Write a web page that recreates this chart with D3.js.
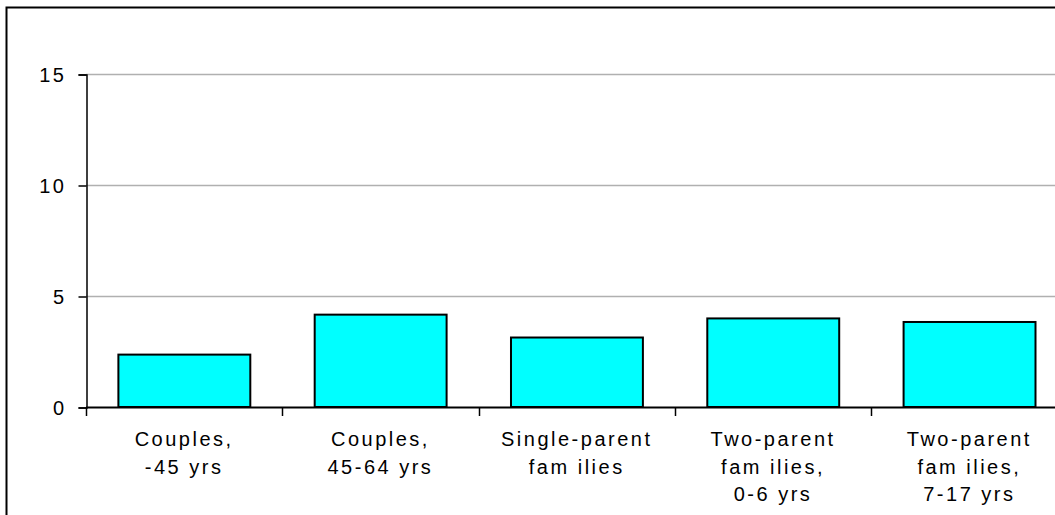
<!DOCTYPE html>
<html>
<head>
<meta charset="utf-8">
<script src="https://cdn.jsdelivr.net/npm/d3@7"></script>
<style>
  body { margin: 0; background: #fff; }
  svg text { font-family: "Liberation Sans", Arial, sans-serif; font-size: 20px; fill: #000; letter-spacing: 2.5px; }
</style>
</head>
<body>
<div class="container"></div>
<script>
const WIDTH = 1055;
const HEIGHT = 515;

// data
var categories = ["c1", "c2", "c3", "c4", "c5"];
var categoryLabels = [
    ["Couples,", "-45 yrs"],
    ["Couples,", "45-64 yrs"],
    ["Single-parent", "fam ilies"],
    ["Two-parent", "fam ilies,", "0-6 yrs"],
    ["Two-parent", "fam ilies,", "7-17 yrs"]
];
var values = [2.36, 4.16, 3.13, 3.99, 3.83];
var yTicks = [0, 5, 10, 15];

var svg = d3.select('.container').append('svg')
    .attr('width', WIDTH)
    .attr('height', HEIGHT);

// outer frame (runs off the right and bottom of the picture)
svg.append('rect')
    .attr('x', 6.5).attr('y', 7.5)
    .attr('width', 1200).attr('height', 700)
    .attr('fill', 'none')
    .attr('stroke', '#000')
    .attr('stroke-width', 2);

var xScale = d3.scaleBand().domain(categories).range([86, 1067.5]).padding(0);
var yScale = d3.scaleLinear().domain([0, 15]).range([407, 74]);

// gridlines
svg.append('g').selectAll('line')
    .data(yTicks.filter(function(d) { return d > 0; }))
    .enter().append('line')
    .attr('x1', 86).attr('x2', WIDTH)
    .attr('y1', function(d) { return yScale(d) + 0.5; })
    .attr('y2', function(d) { return yScale(d) + 0.5; })
    .attr('stroke', '#b0b0b0')
    .attr('stroke-width', 1.5);

// bars
var bw = xScale.bandwidth();
svg.append('g').selectAll('rect')
    .data(values)
    .enter().append('rect')
    .attr('x', function(d, i) { return xScale(categories[i]) + bw * 0.165; })
    .attr('width', bw * 0.672)
    .attr('y', function(d) { return yScale(d); })
    .attr('height', function(d) { return yScale(0) - yScale(d); })
    .attr('fill', '#00ffff')
    .attr('stroke', '#000')
    .attr('stroke-width', 2);

// y axis
var yAxis = d3.axisLeft(yScale).tickValues(yTicks).tickSize(8).tickPadding(12);
var gy = svg.append('g')
    .attr('transform', 'translate(86.5, 0.5)')
    .call(yAxis);
gy.select('.domain').attr('stroke', '#000').attr('stroke-width', 1.5);
gy.selectAll('.tick line').attr('stroke', '#000').attr('stroke-width', 1.5);
gy.selectAll('.tick text')
    .style('font-size', '20px')
    .attr('dy', '0.35em');

// x axis: baseline and boundary ticks
var boundaries = categories.map(function(c) { return xScale(c); }).concat([xScale.range()[1]]);
svg.append('line')
    .attr('x1', 86).attr('x2', WIDTH)
    .attr('y1', yScale(0) + 0.5).attr('y2', yScale(0) + 0.5)
    .attr('stroke', '#000').attr('stroke-width', 2);
svg.append('g').selectAll('line')
    .data(boundaries)
    .enter().append('line')
    .attr('x1', function(d) { return Math.round(d) + 0.5; })
    .attr('x2', function(d) { return Math.round(d) + 0.5; })
    .attr('y1', yScale(0)).attr('y2', yScale(0) + 9)
    .attr('stroke', '#000').attr('stroke-width', 1.5);

// category labels
var lab = svg.append('g').selectAll('text')
    .data(categoryLabels)
    .enter().append('text')
    .attr('text-anchor', 'middle')
    .attr('x', function(d, i) { return xScale(categories[i]) + bw / 2; })
    .attr('y', 446);
lab.selectAll('tspan')
    .data(function(d) { return d; })
    .enter().append('tspan')
    .attr('x', function() { return d3.select(this.parentNode).attr('x'); })
    .attr('dy', function(d, i) { return i === 0 ? 0 : 27.6; })
    .text(function(d) { return d; });
</script>
</body>
</html>
